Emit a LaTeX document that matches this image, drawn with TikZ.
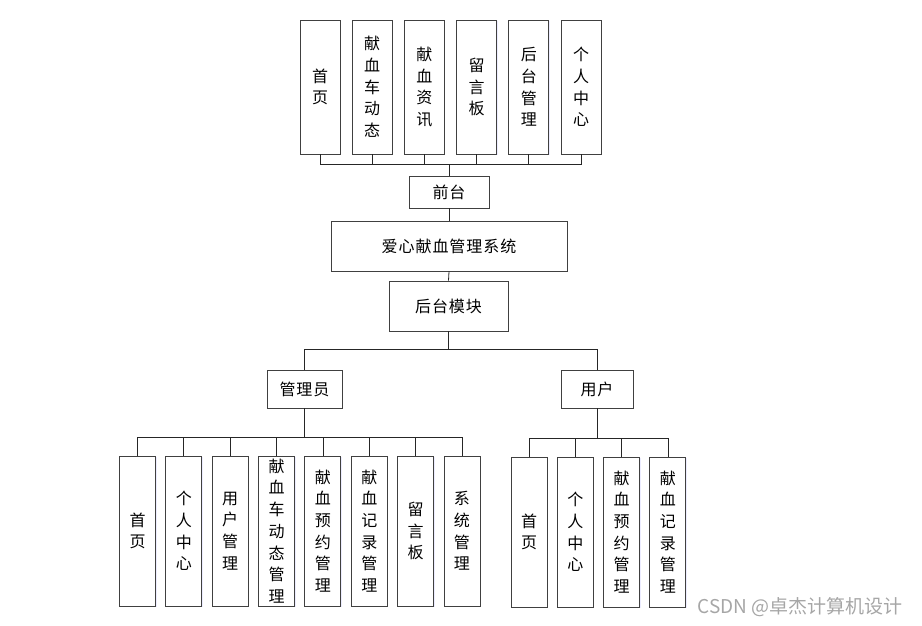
\documentclass[tikz,border=0pt]{standalone}
\usepackage{fontspec}
\newfontfamily\cjk{Noto Sans CJK SC}
\newfontfamily\cjkwide[LetterSpace=6]{Noto Sans CJK SC}
\usetikzlibrary{shadows}
\tikzset{
    box/.style={draw=black!75,fill=white,line width=0.9pt,inner sep=0pt,
        drop shadow={shadow xshift=1pt,shadow yshift=-1pt,fill=blue!12,opacity=0.6}},
    hbox/.style={box,font=\cjkwide\fontsize{16}{18}\selectfont},
    vbox/.style={box,align=center,font=\cjk\fontsize{16}{21.7}\selectfont},
    conn/.style={draw=black!85,line width=0.8pt},
    watermark/.style={text=black!35,font=\cjk\fontsize{19}{19}\selectfont},
}

\begin{document}
\begin{tikzpicture}[x=1pt,y=-1pt]
    \useasboundingbox (0,0) rectangle (922,626);
    % front pages
    \foreach \lbl [count=\i] in {{首\\页},{献\\血\\车\\动\\态},{献\\血\\资\\讯},{留\\言\\板},{后\\台\\管\\理},{个\\人\\中\\心}}
        \node[vbox,minimum width=40pt,minimum height=134pt] (f\i) at ({320+52.2*(\i-1)},87) {\lbl};
    \node[hbox,minimum width=80pt,minimum height=32pt] (qt) at (449,192) {前台};
    \node[hbox,minimum width=236pt,minimum height=50pt] (sys) at (449,246) {爱心献血管理系统};
    \node[hbox,minimum width=119pt,minimum height=50pt] (ht) at (448.5,306) {后台模块};
    \node[hbox,minimum width=75pt,minimum height=38pt] (gly) at (304.5,389) {管理员};
    \node[hbox,minimum width=72pt,minimum height=38pt] (yh) at (597,389) {用户};
    % admin modules
    \foreach \lbl [count=\i] in {{首\\页},{个\\人\\中\\心},{用\\户\\管\\理},{献\\血\\车\\动\\态\\管\\理},{献\\血\\预\\约\\管\\理},{献\\血\\记\\录\\管\\理},{留\\言\\板},{系\\统\\管\\理}}
        \node[vbox,minimum width=36pt,minimum height=150pt] (a\i) at ({137.5+46.35*(\i-1)},531) {\lbl};
    % user modules
    \foreach \lbl [count=\i] in {{首\\页},{个\\人\\中\\心},{献\\血\\预\\约\\管\\理},{献\\血\\记\\录\\管\\理}}
        \node[vbox,minimum width=36pt,minimum height=150pt] (u\i) at ({529+46.3*(\i-1)},532) {\lbl};

    \foreach \i in {1,...,6}
        \draw[conn] (f\i.south) -- ++(0,10) -| (qt.north);
    \draw[conn] (qt.south) -- (sys.north);
    \draw[conn] (sys.south) -- (ht.north);
    \draw[conn] (ht.south) -- ++(0,18) -| (gly.north);
    \draw[conn] (ht.south) -- ++(0,18) -| (yh.north);
    \foreach \i in {1,...,8}
        \draw[conn] (gly.south) -- ++(0,29) -| (a\i.north);
    \foreach \i in {1,...,4}
        \draw[conn] (yh.south) -- ++(0,30) -| (u\i.north);

    \node[watermark] (wm) at (800,607) {CSDN @卓杰计算机设计};
\end{tikzpicture}
\end{document}
